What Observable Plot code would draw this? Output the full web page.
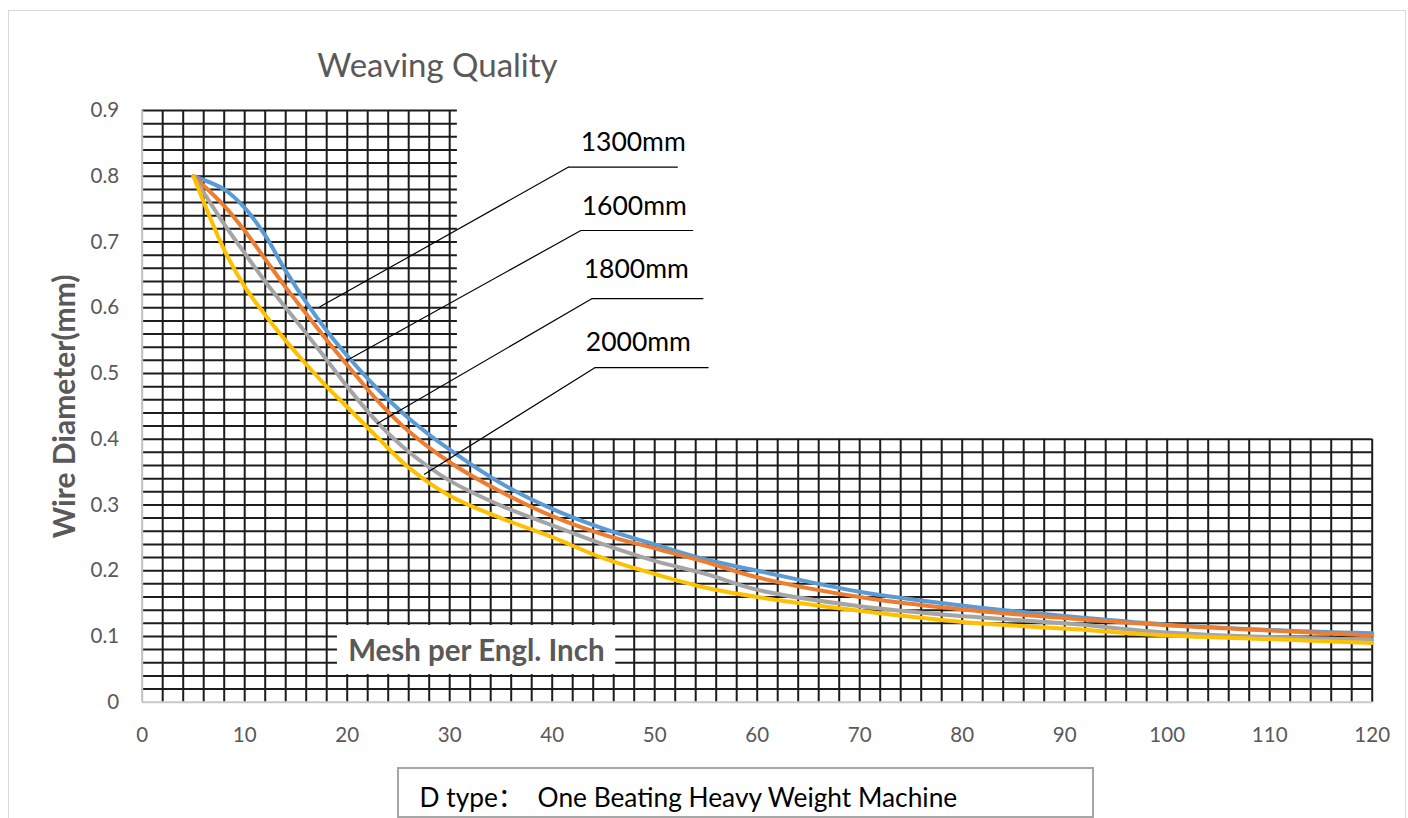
<!DOCTYPE html>
<html>
<head>
<meta charset="utf-8">
<script src="https://cdn.jsdelivr.net/npm/d3@7"></script>
<script src="https://cdn.jsdelivr.net/npm/@observablehq/plot@0.6"></script>
<style>
  html, body { margin: 0; padding: 0; background: #fff; overflow: hidden; }
  #wrap { position: relative; width: 1408px; height: 818px; overflow: hidden; }
  #outer { position: absolute; left: 8px; top: 10px; width: 1398px; height: 900px; border: 1.5px solid #d9d9d9; box-sizing: border-box; pointer-events: none; }
  #capbox { position: absolute; left: 397px; top: 767px; width: 697px; height: 51px; border: 2px solid #a6a6a6; box-sizing: border-box; pointer-events: none; }
  #wrap svg { position: absolute; left: 0; top: 0; }
</style>
</head>
<body>
<div id="wrap"><div id="outer"></div></div>
<script>
// ---------- data ----------
const meshX = [5, 8, 10, 12, 14, 16, 18, 20, 23, 26, 30, 35, 40, 45, 50, 55, 60, 70, 80, 90, 100, 110, 120];
const wire1300 = [0.800, 0.780, 0.752, 0.710, 0.656, 0.608, 0.565, 0.527, 0.476, 0.432, 0.384, 0.333, 0.294, 0.264, 0.240, 0.217, 0.200, 0.168, 0.147, 0.131, 0.118, 0.110, 0.105];
const wire1600 = [0.800, 0.755, 0.717, 0.674, 0.631, 0.591, 0.551, 0.513, 0.458, 0.412, 0.365, 0.320, 0.283, 0.255, 0.234, 0.213, 0.190, 0.160, 0.141, 0.128, 0.117, 0.109, 0.1015];
const wire1800 = [0.800, 0.727, 0.683, 0.640, 0.600, 0.561, 0.521, 0.480, 0.425, 0.381, 0.337, 0.299, 0.269, 0.240, 0.215, 0.195, 0.171, 0.146, 0.131, 0.120, 0.106, 0.099, 0.095];
const wire2000 = [0.800, 0.688, 0.632, 0.589, 0.550, 0.514, 0.480, 0.449, 0.402, 0.357, 0.314, 0.280, 0.251, 0.219, 0.195, 0.174, 0.160, 0.139, 0.122, 0.112, 0.1015, 0.096, 0.090];
const seriesNames = ["1300mm", "1600mm", "1800mm", "2000mm"];
const seriesValues = [wire1300, wire1600, wire1800, wire2000];
const seriesColors = ["#5B9BD5", "#ED7D31", "#A5A5A5", "#FFC000"];

const xTicks = [0, 10, 20, 30, 40, 50, 60, 70, 80, 90, 100, 110, 120];
const yTicks = [0, 0.1, 0.2, 0.3, 0.4, 0.5, 0.6, 0.7, 0.8, 0.9];

// callout labels: text anchor, underline span and leader end (data units)
const calloutTextX = [47.9, 48.0, 48.2, 48.4];
const calloutTextY = [0.851, 0.754, 0.658, 0.547];
const underlineX1 = [41.6, 42.8, 43.9, 44.2];
const underlineX2 = [52.3, 53.8, 54.8, 55.3];
const underlineY = [0.814, 0.7175, 0.614, 0.509];
const leaderX = [17.3, 20.0, 22.9, 27.5];
const leaderY = [0.601, 0.520, 0.4235, 0.3464];

const titleText = "Weaving Quality";
const yLabelText = "Wire Diameter(mm)";
const xLabelText = "Mesh per Engl. Inch";
const captionText = "D type：  One Beating Heavy Weight Machine";

// ---------- derived tables ----------
const rows = seriesNames.flatMap((s, i) => meshX.map((x, j) => ({ s, x, y: seriesValues[i][j] })));
const callouts = seriesNames.map((s, i) => ({
  s, tx: calloutTextX[i], ty: calloutTextY[i],
  ux1: underlineX1[i], ux2: underlineX2[i], uy: underlineY[i],
  lx: leaderX[i], ly: leaderY[i]
}));

// background mesh grid (every 2 mesh / 0.02 mm)
const vUpper = d3.range(2, 31, 2);
const vLower = d3.range(32, 121, 2);
const hUpper = d3.range(21, 46).map(k => k / 50);
const hLower = d3.range(1, 21).map(k => k / 50);

const ML = 141.7, MR = 36.3, MT = 110, MB = 116.3;
const at = (px, py) => ({ frameAnchor: "top-left", dx: px - ML, dy: py - MT });
const gridStroke = "#1c1c1c";
const textGray = "#595959";

const chart = Plot.plot({
  width: 1408,
  height: 818,
  marginLeft: ML, marginRight: MR, marginTop: MT, marginBottom: MB,
  style: { fontFamily: "Lato, 'Open Sans', sans-serif", background: "transparent" },
  x: { domain: [0, 120] },
  y: { domain: [0, 0.9] },
  color: { domain: seriesNames, range: seriesColors },
  marks: [
    // grid
    Plot.ruleX(vUpper, { x: d => d, y1: 0, y2: 0.9, stroke: gridStroke, strokeWidth: 2 }),
    Plot.ruleX(vLower, { x: d => d, y1: 0, y2: 0.4, stroke: gridStroke, strokeWidth: 2 }),
    Plot.ruleY(hUpper, { y: d => d, x1: 0, x2: 30.75, stroke: gridStroke, strokeWidth: 2 }),
    Plot.ruleY(hLower, { y: d => d, x1: 0, x2: 120, stroke: gridStroke, strokeWidth: 2 }),
    // axis lines
    Plot.ruleX([0], { y1: 0, y2: 0.9, stroke: "#c0c0c0", strokeWidth: 2 }),
    Plot.ruleY([0], { x1: 0, x2: 120, stroke: "#c8c8c8", strokeWidth: 2 }),
    // x axis title box
    Plot.rect([xLabelText], { x1: 19.05, x2: 46.2, y1: 0.042, y2: 0.1167, fill: "white" }),
    Plot.text([xLabelText], { x: 32.6, y: 0.0624, text: d => d, textAnchor: "middle", lineAnchor: "bottom", fontSize: 29.5, fontWeight: "bold", fill: textGray }),
    // curves
    Plot.line(rows, { x: "x", y: "y", z: "s", stroke: "s", strokeWidth: 4, curve: "catmull-rom" }),
    // callouts
    Plot.link(callouts, { x1: "lx", y1: "ly", x2: "ux1", y2: "uy", stroke: "black", strokeWidth: 1.2 }),
    Plot.ruleY(callouts, { y: "uy", x1: "ux1", x2: "ux2", stroke: "black", strokeWidth: 1.2 }),
    Plot.text(callouts, { x: "tx", y: "ty", text: "s", textAnchor: "middle", fontSize: 26.5, fill: "black", lineAnchor: "middle" }),
    // axes
    Plot.axisX(xTicks, { tickSize: 0, tickPadding: 25, fontSize: 20.5, fill: textGray, label: null }),
    Plot.axisY(yTicks, { tickSize: 0, tickPadding: 23, fontSize: 20.5, fill: textGray, label: null, tickFormat: d => String(d) }),
    // titles
    Plot.text([titleText], { ...at(437, 76.7), text: d => d, textAnchor: "middle", lineAnchor: "bottom", fontSize: 33, fill: textGray }),
    Plot.text([yLabelText], { frameAnchor: "left", dx: 65 - ML, text: d => d, textAnchor: "middle", rotate: -90, lineAnchor: "middle", fontSize: 30, fontWeight: "bold", fill: textGray }),
    Plot.text([captionText], { ...at(419, 806.7), text: d => d, textAnchor: "start", lineAnchor: "bottom", fontSize: 26.3, fill: "black", fontFamily: "Lato, 'Noto Sans CJK SC', sans-serif" })
  ]
});

const wrap = document.getElementById("wrap");
wrap.appendChild(chart);
const cap = document.createElement("div");
cap.id = "capbox";
wrap.appendChild(cap);
</script>
</body>
</html>
